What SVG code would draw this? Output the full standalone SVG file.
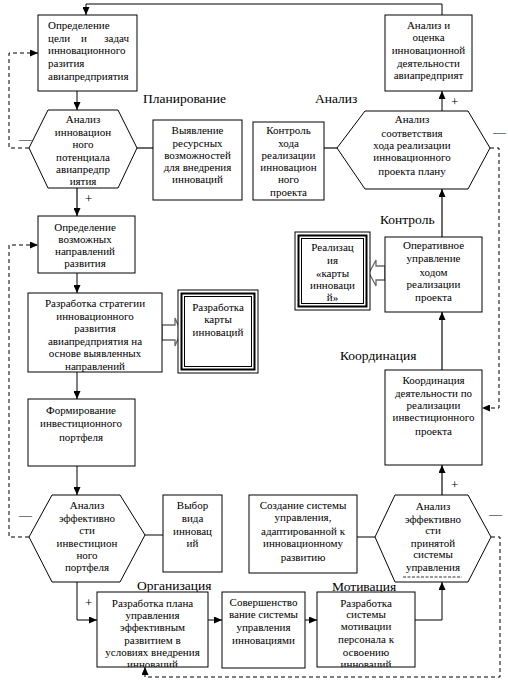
<svg xmlns="http://www.w3.org/2000/svg" width="508" height="683" viewBox="0 0 508 683">
<defs>
<style>
.box{fill:#fff;stroke:#000;stroke-width:1}
.t{font-family:"Liberation Serif","Times New Roman",serif;font-size:11px;text-anchor:middle;fill:#000}
.tl{text-anchor:start}
.te{text-anchor:end}
.lbl{font-family:"Liberation Serif","Times New Roman",serif;font-size:13.5px;fill:#000}
.sg{font-family:"Liberation Serif","Times New Roman",serif;font-size:13px;fill:#000}
.k{stroke:#000;stroke-width:1;fill:none}
.g{stroke:#6a6a6a;stroke-width:2;fill:none}
.d{stroke:#000;stroke-width:1;stroke-dasharray:4 3;fill:none}
.blk{fill:#fff;stroke:#6a6a6a;stroke-width:1.3}
</style>
<marker id="ah" markerWidth="8" markerHeight="7" refX="8" refY="3.5" orient="auto" markerUnits="userSpaceOnUse">
<path d="M0,0 L8,3.5 L0,7 z" fill="#000"/>
</marker>
<clipPath id="c1"><rect x="28" y="293" width="134" height="79"/></clipPath>
<clipPath id="c2"><rect x="97" y="592" width="111" height="75"/></clipPath>
<clipPath id="c3"><rect x="317" y="592" width="98" height="75"/></clipPath>
</defs>
<rect width="508" height="683" fill="#fff"/>

<g id="connectors">
<polyline class="k" points="442,15 442,4 86,4 86,15" marker-end="url(#ah)"/>
<line class="k" x1="77" y1="91" x2="77" y2="110" marker-end="url(#ah)"/>
<line class="g" x1="77" y1="188" x2="77" y2="216" marker-end="url(#ah)"/>
<line class="g" x1="137" y1="148" x2="153" y2="148"/>
<polyline class="d" points="29,148 9,148 9,53 38,53" marker-end="url(#ah)"/>
<line class="k" x1="77" y1="273" x2="77" y2="293" marker-end="url(#ah)"/>
<line class="k" x1="77" y1="372" x2="77" y2="399" marker-end="url(#ah)"/>
<line class="k" x1="77" y1="466" x2="77" y2="495" marker-end="url(#ah)"/>
<polyline class="d" points="29,537 9,537 9,245 38,245" marker-end="url(#ah)"/>
<line class="k" x1="145" y1="535" x2="163" y2="535"/>
<polyline class="k" points="77,582 77,620 97,620" marker-end="url(#ah)"/>
<line class="k" x1="208" y1="620" x2="222" y2="620" marker-end="url(#ah)"/>
<line class="k" x1="305" y1="620" x2="317" y2="620" marker-end="url(#ah)"/>
<polyline class="k" points="415,620 442,620 442,582" marker-end="url(#ah)"/>
<line class="g" x1="442" y1="495" x2="442" y2="465" marker-end="url(#ah)"/>
<polyline class="d" points="491,537 500,537 500,677 145,677 145,667" marker-end="url(#ah)"/>
<line class="k" x1="357" y1="537" x2="375" y2="537"/>
<line class="g" x1="442" y1="370" x2="442" y2="312" marker-end="url(#ah)"/>
<line class="g" x1="442" y1="237" x2="442" y2="189" marker-end="url(#ah)"/>
<line class="k" x1="442" y1="111" x2="442" y2="91" marker-end="url(#ah)"/>
<line class="g" x1="324" y1="148" x2="337" y2="148"/>
<polyline class="d" points="490,148 499,148 499,408 482,408" marker-end="url(#ah)"/>
<polygon class="blk" points="162,325 175,325 175,318 181,332 175,346 175,340 162,340"/>
<polygon class="blk" points="385,266 376,266 376,260 369,273 376,286 376,280 385,280"/>
</g>

<g id="signs">
<text class="sg" x="19" y="143">—</text>
<text class="sg" x="85" y="203">+</text>
<text class="sg" x="493" y="136">—</text>
<text class="sg" x="451" y="106">+</text>
<text class="sg" x="19" y="519">—</text>
<text class="sg" x="85" y="607">+</text>
<text class="sg" x="489" y="518">—</text>
<text class="sg" x="451" y="489">+</text>
</g>

<g id="labels">
<text class="lbl" x="143" y="103">Планирование</text>
<text class="lbl" x="315" y="103">Анализ</text>
<text class="lbl" x="380" y="224">Контроль</text>
<text class="lbl" x="340" y="360">Координация</text>
<text class="lbl" x="137" y="590">Организация</text>
<text class="lbl" x="332" y="591">Мотивация</text>
</g>

<g id="n1">
<rect class="box" x="38" y="15" width="99" height="76"/>
<text class="t tl" x="48" y="29">Определение</text>
<text class="t tl" x="48" y="42">цели</text>
<text class="t" x="84" y="42">и</text>
<text class="t te" x="129" y="42">задач</text>
<text class="t tl" x="48" y="54">инновационного</text>
<text class="t tl" x="48" y="67">разития</text>
<text class="t tl" x="48" y="80">авиапредприятия</text>
</g>

<g id="n2">
<polygon class="box" points="29,148 48,110 118,110 137,148 118,188 48,188"/>
<text class="t" x="83" y="123">Анализ</text>
<text class="t" x="83" y="136">инновацион</text>
<text class="t" x="83" y="148">ного</text>
<text class="t" x="83" y="161">потенциала</text>
<text class="t" x="83" y="173">авиапредпр</text>
<text class="t" x="83" y="185">иятия</text>
</g>

<g id="n3">
<rect class="box" x="153" y="120" width="89" height="80"/>
<text class="t" x="197.5" y="134">Выявление</text>
<text class="t" x="197.5" y="147">ресурсных</text>
<text class="t" x="197.5" y="159">возможностей</text>
<text class="t" x="197.5" y="171">для внедрения</text>
<text class="t" x="197.5" y="183">инноваций</text>
</g>

<g id="n4">
<rect class="box" x="253" y="122" width="71" height="78"/>
<text class="t" x="288.5" y="134">Контроль</text>
<text class="t" x="288.5" y="147">хода</text>
<text class="t" x="288.5" y="159">реализации</text>
<text class="t" x="288.5" y="171">инновацион</text>
<text class="t" x="288.5" y="183">ного</text>
<text class="t" x="288.5" y="196">проекта</text>
</g>

<g id="n5">
<polygon class="box" points="337,148 365,111 468,111 490,148 468,189 365,189"/>
<text class="t" x="412" y="123">Анализ</text>
<text class="t" x="412" y="137">соответствия</text>
<text class="t" x="412" y="149">хода реализации</text>
<text class="t" x="412" y="161">инновационного</text>
<text class="t" x="412" y="175">проекта плану</text>
</g>

<g id="n6">
<rect class="box" x="385" y="15" width="87" height="76"/>
<text class="t" x="428.5" y="29">Анализ и</text>
<text class="t" x="428.5" y="41">оценка</text>
<text class="t" x="428.5" y="54">инновационной</text>
<text class="t" x="428.5" y="67">деятельности</text>
<text class="t" x="428.5" y="79">авиапредприят</text>
</g>

<g id="n7">
<rect class="box" x="38" y="216" width="97" height="57"/>
<text class="t" x="85" y="231">Определение</text>
<text class="t" x="85" y="243">возможных</text>
<text class="t" x="85" y="255">направлений</text>
<text class="t" x="85" y="267">развития</text>
</g>

<g id="n8">
<rect class="box" x="28" y="293" width="134" height="79"/>
<g clip-path="url(#c1)">
<text class="t" x="95" y="307">Разработка стратегии</text>
<text class="t" x="95" y="320">инновационного</text>
<text class="t" x="95" y="332">развития</text>
<text class="t" x="95" y="345">авиапредприятия на</text>
<text class="t" x="95" y="357">основе выявленных</text>
<text class="t" x="95" y="370">направлений</text>
</g>
</g>

<g id="n9">
<rect x="178" y="290" width="80" height="83" fill="#fff" stroke="#000" stroke-width="1"/>
<rect x="181.5" y="293.5" width="73" height="76" fill="none" stroke="#000" stroke-width="2"/>
<rect x="184.5" y="296.5" width="67" height="70" fill="none" stroke="#000" stroke-width="1"/>
<text class="t" x="218" y="311">Разработка</text>
<text class="t" x="218" y="323">карты</text>
<text class="t" x="218" y="336">инноваций</text>
</g>

<g id="n10">
<rect class="box" x="28" y="399" width="107" height="67"/>
<text class="t" x="81" y="414">Формирование</text>
<text class="t" x="81" y="427">инвестиционного</text>
<text class="t" x="81" y="441">портфеля</text>
</g>

<g id="n11">
<polygon class="box" points="29,537 52,495 120,495 145,535 120,582 52,582"/>
<text class="t" x="87" y="509">Анализ</text>
<text class="t" x="87" y="522">эффективно</text>
<text class="t" x="87" y="534">сти</text>
<text class="t" x="87" y="547">инвестицион</text>
<text class="t" x="87" y="559">ного</text>
<text class="t" x="87" y="571">портфеля</text>
</g>

<g id="n12">
<rect class="box" x="163" y="495" width="59" height="77"/>
<text class="t" x="192.5" y="509">Выбор</text>
<text class="t" x="192.5" y="522">вида</text>
<text class="t" x="192.5" y="535">инновац</text>
<text class="t" x="192.5" y="547">ий</text>
</g>

<g id="n13">
<rect class="box" x="249" y="495" width="108" height="78"/>
<text class="t" x="303" y="509">Создание системы</text>
<text class="t" x="303" y="521">управления,</text>
<text class="t" x="303" y="535">адаптированной к</text>
<text class="t" x="303" y="547">инновационному</text>
<text class="t" x="303" y="561">развитию</text>
</g>

<g id="n14">
<polygon class="box" points="375,537 395,495 468,495 491,537 468,582 395,582"/>
<text class="t" x="433" y="510">Анализ</text>
<text class="t" x="433" y="523">эффективно</text>
<text class="t" x="433" y="534">сти</text>
<text class="t" x="433" y="547">принятой</text>
<text class="t" x="433" y="558">системы</text>
<text class="t" x="433" y="571">управления</text>
<line x1="403" y1="577" x2="462" y2="577" stroke="#000" stroke-width="0.8" stroke-dasharray="3 1.5"/>
</g>

<g id="n15">
<rect class="box" x="97" y="592" width="111" height="75"/>
<g clip-path="url(#c2)">
<text class="t" x="152.5" y="607">Разработка плана</text>
<text class="t" x="152.5" y="619">управления</text>
<text class="t" x="152.5" y="631">эффективным</text>
<text class="t" x="152.5" y="644">развитием в</text>
<text class="t" x="152.5" y="656">условиях внедрения</text>
<text class="t" x="152.5" y="668">инноваций</text>
</g>
</g>

<g id="n16">
<rect class="box" x="222" y="592" width="83" height="76"/>
<text class="t" x="263.5" y="606">Совершенство</text>
<text class="t" x="263.5" y="618">вание системы</text>
<text class="t" x="263.5" y="631">управления</text>
<text class="t" x="263.5" y="644">инновациями</text>
</g>

<g id="n17">
<rect class="box" x="317" y="592" width="98" height="75"/>
<g clip-path="url(#c3)">
<text class="t" x="366" y="607">Разработка</text>
<text class="t" x="366" y="618">системы</text>
<text class="t" x="366" y="630">мотивации</text>
<text class="t" x="366" y="643">персонала к</text>
<text class="t" x="366" y="656">освоению</text>
<text class="t" x="366" y="668">инноваций</text>
</g>
</g>

<g id="n18">
<rect class="box" x="385" y="370" width="97" height="95"/>
<text class="t" x="433.5" y="384">Координация</text>
<text class="t" x="433.5" y="397">деятельности по</text>
<text class="t" x="433.5" y="409">реализации</text>
<text class="t" x="433.5" y="421">инвестиционного</text>
<text class="t" x="433.5" y="435">проекта</text>
</g>

<g id="n19">
<rect class="box" x="385" y="237" width="97" height="75"/>
<text class="t" x="433.5" y="249">Оперативное</text>
<text class="t" x="433.5" y="262">управление</text>
<text class="t" x="433.5" y="276">ходом</text>
<text class="t" x="433.5" y="288">реализации</text>
<text class="t" x="433.5" y="301">проекта</text>
</g>

<g id="n20">
<rect x="295" y="232" width="75" height="78" fill="#fff" stroke="#000" stroke-width="1"/>
<rect x="298.5" y="235.5" width="68" height="71" fill="none" stroke="#000" stroke-width="2"/>
<rect x="301.5" y="238.5" width="62" height="65" fill="none" stroke="#000" stroke-width="1"/>
<text class="t" x="332.5" y="251">Реализац</text>
<text class="t" x="332.5" y="264">ия</text>
<text class="t" x="332.5" y="277">«карты</text>
<text class="t" x="332.5" y="289">инноваци</text>
<text class="t" x="332.5" y="301">й»</text>
</g>
</svg>
